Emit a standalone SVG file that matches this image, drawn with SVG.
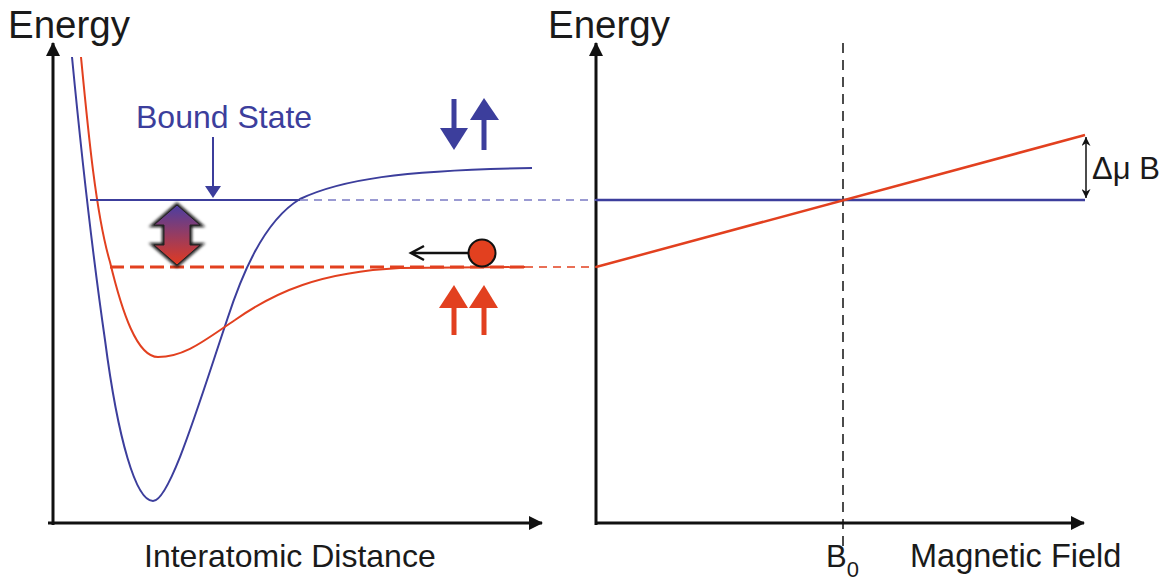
<svg xmlns="http://www.w3.org/2000/svg" width="1168" height="584" viewBox="0 0 1168 584">
<style>
text{font-family:"Liberation Sans",Arial,sans-serif;fill:#1a1a1a}
.axis{stroke:#111;stroke-width:3;fill:none}
.blue{stroke:#3c3e9c;stroke-width:2;fill:none}
.red{stroke:#e2401f;stroke-width:2;fill:none}
.bluedash{stroke:#7a7ac4;stroke-width:1.5;stroke-dasharray:8 6;fill:none}
.reddash{stroke:#e2401f;stroke-width:1.5;stroke-dasharray:8 6;fill:none}
.blk{stroke:#111;stroke-width:1.5;fill:none}
</style>
<defs>
<marker id="ah" viewBox="0 0 14 14" refX="13" refY="7" markerWidth="14" markerHeight="14" markerUnits="userSpaceOnUse" orient="auto"><path d="M0,0 L14,7 L0,14 Z" fill="#111"/></marker>
<marker id="ahs" viewBox="0 0 10 10" refX="10" refY="5" markerWidth="9" markerHeight="9" markerUnits="userSpaceOnUse" orient="auto-start-reverse"><path d="M0,0 L10,5 L0,10 L3,5 Z" fill="#111"/></marker>
<linearGradient id="grad" x1="0" y1="0" x2="0" y2="1"><stop offset="0" stop-color="#4b3ea2"/><stop offset="1" stop-color="#e23a20"/></linearGradient>
<filter id="blur" x="-30%" y="-30%" width="160%" height="160%"><feGaussianBlur stdDeviation="1.5"/></filter>
</defs>

<g id="left-axes">
<line class="axis" x1="53" y1="525" x2="53" y2="43" marker-end="url(#ah)"/>
<line class="axis" x1="48" y1="523" x2="542" y2="523" marker-end="url(#ah)"/>
<text x="8" y="38" font-size="38.5">Energy</text>
<text x="144" y="567" font-size="32">Interatomic Distance</text>
</g>

<g id="right-axes">
<line class="axis" x1="596" y1="525" x2="596" y2="43" marker-end="url(#ah)"/>
<line class="axis" x1="596" y1="523" x2="1084" y2="523" marker-end="url(#ah)"/>
<text x="548" y="38" font-size="38.5">Energy</text>
<text x="910" y="567" font-size="32.5">Magnetic Field</text>
<text x="826" y="567" font-size="31">B<tspan font-size="22" dy="10">0</tspan></text>
</g>

<g id="b0-line">
<line x1="843" y1="43" x2="843" y2="552" stroke="#111" stroke-width="1.5" stroke-dasharray="10 7"/>
</g>

<g id="blue-potential">
<path class="blue" d="M72,57 C80,140 92,250 105,340 C118,440 136,501 153,501 C170,501 200,400 227,320 C240,280 262,222 300,199 C340,180 400,170 532,168"/>
</g>

<g id="red-potential">
<path class="red" d="M81,57 C88,130 96,215 110,262 C122,312 137,357 158,357 C185,357 205,340 235,320 C275,292 320,272 400,268 L525,267"/>
</g>

<g id="bound-state">
<line class="blue" x1="90" y1="200" x2="300" y2="200"/>
<text x="136" y="128" font-size="32" style="fill:#3c3e9c">Bound State</text>
<line x1="213" y1="137" x2="213" y2="188" stroke="#3c3e9c" stroke-width="2"/>
<path d="M205,186 L221,186 L213,198 Z" fill="#3c3e9c"/>
</g>

<g id="open-channel">
<line x1="110" y1="267" x2="525" y2="267" stroke="#e2401f" stroke-width="3" stroke-dasharray="14 6"/>
</g>

<g id="coupling-arrow">
<path d="M177,205 L200,225 L190,225 L190,245 L200,245 L177,265 L154,245 L164,245 L164,225 L154,225 Z" fill="none" stroke="#111" stroke-width="4" filter="url(#blur)"/>
<path d="M177,205 L200,225 L190,225 L190,245 L200,245 L177,265 L154,245 L164,245 L164,225 L154,225 Z" fill="url(#grad)" stroke="#222" stroke-width="1"/>
</g>

<g id="spin-blue">
<rect x="451.5" y="99" width="5" height="34" fill="#3c3e9c"/>
<path d="M440,128 L468,128 L454,150 Z" fill="#3c3e9c"/>
<rect x="481.5" y="116" width="5" height="34" fill="#3c3e9c"/>
<path d="M470,120 L499,120 L484,98 Z" fill="#3c3e9c"/>
</g>

<g id="spin-red">
<rect x="451.5" y="303" width="5" height="32" fill="#e2401f"/>
<path d="M439,308 L468,308 L454,285 Z" fill="#e2401f"/>
<rect x="481.5" y="303" width="5" height="32" fill="#e2401f"/>
<path d="M469,308 L498,308 L484,285 Z" fill="#e2401f"/>
</g>

<g id="atom">
<line x1="468" y1="253" x2="412" y2="253" stroke="#111" stroke-width="2.5"/>
<path d="M424,246 L411,253 L424,260" fill="none" stroke="#111" stroke-width="2.5"/>
<circle cx="482" cy="253" r="13.5" fill="#e2401f" stroke="#111" stroke-width="2"/>
</g>

<g id="connectors">
<line class="bluedash" x1="300" y1="200" x2="596" y2="200"/>
<line class="reddash" x1="525" y1="267" x2="596" y2="267"/>
</g>

<g id="closed-channel">
<line x1="596" y1="200" x2="1085" y2="200" stroke="#3c3e9c" stroke-width="2.5"/>
</g>

<g id="open-channel-field">
<line x1="596" y1="267" x2="1085" y2="135" stroke="#e2401f" stroke-width="2.5"/>
</g>

<g id="delta-mu-b">
<line class="blk" x1="1086" y1="137" x2="1086" y2="198" marker-start="url(#ahs)" marker-end="url(#ahs)"/>
<text x="1092" y="179" font-size="31">Δμ B</text>
</g>
</svg>
